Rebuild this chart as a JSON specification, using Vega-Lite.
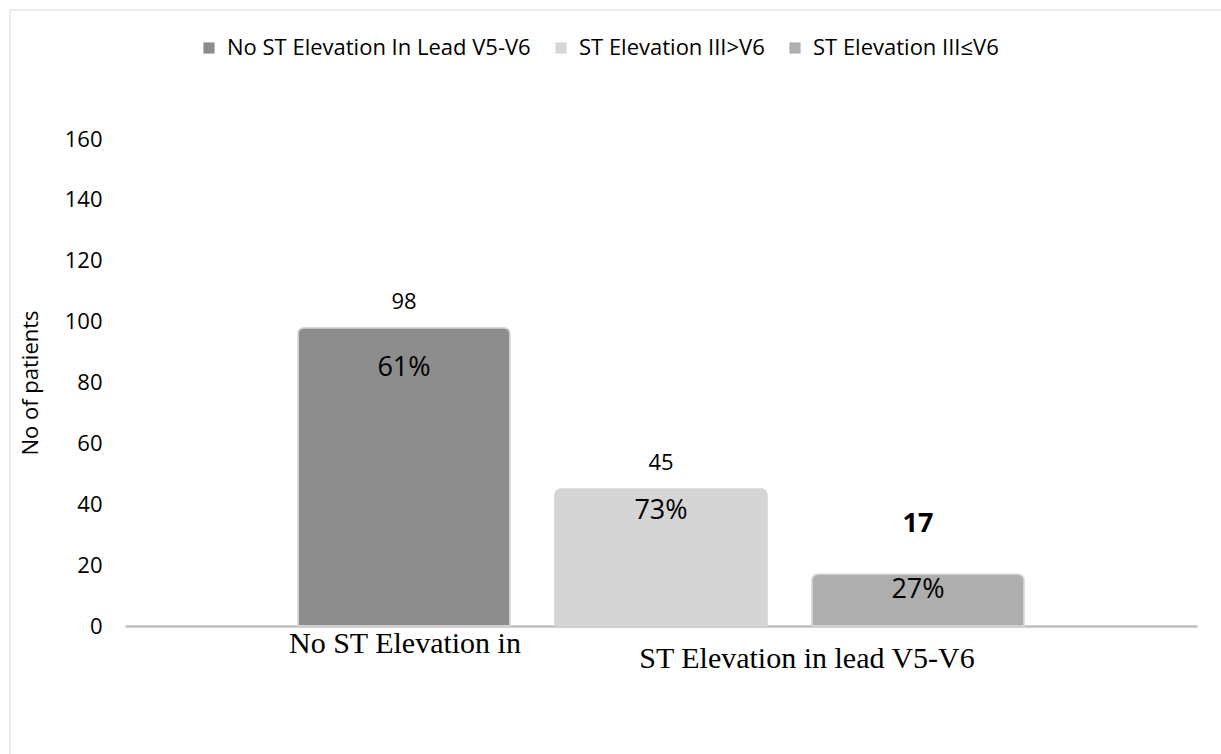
{
  "$schema": "https://vega.github.io/schema/vega-lite/v6.json",
  "autosize": {"type": "none"},
  "width": 1072,
  "height": 487,
  "padding": {"left": 125, "top": 139, "right": 24, "bottom": 128},
  "background": "#ffffff",
  "config": {
    "view": {"stroke": null},
    "font": "Open Sans"
  },
  "data": {
    "values": [
      {"bar": "No ST Elevation In Lead V5-V6", "patients": 98, "pct": "61%"},
      {"bar": "ST Elevation III>V6", "patients": 45, "pct": "73%"},
      {"bar": "ST Elevation III≤V6", "patients": 17, "pct": "27%"}
    ]
  },
  "encoding": {
    "x": {
      "field": "bar",
      "type": "nominal",
      "sort": null,
      "scale": {"paddingInner": 0.175, "paddingOuter": 0.673},
      "axis": {
        "title": null,
        "domainColor": "#bfbfbf",
        "domainWidth": 2.5,
        "ticks": false,
        "labelAngle": 0,
        "labelFont": "Liberation Serif",
        "labelFontSize": 30,
        "labelColor": "#000000",
        "labelOverlap": false,
        "labelBound": false,
        "labelLimit": 0,
        "labelBaseline": "top",
        "labelExpr": "datum.value == 'No ST Elevation In Lead V5-V6' ? 'No ST Elevation in' : (datum.value == 'ST Elevation III>V6' ? 'ST Elevation in lead V5-V6' : '')",
        "labelOffset": {"condition": {"test": "datum.value == 'ST Elevation III>V6'", "value": 146}, "value": 1},
        "labelPadding": {"condition": {"test": "datum.value == 'ST Elevation III>V6'", "value": 17}, "value": 2}
      }
    },
    "y": {
      "field": "patients",
      "type": "quantitative",
      "scale": {"domain": [0, 160], "nice": false},
      "axis": {
        "title": "No of patients",
        "titleFont": "Open Sans",
        "titleFontSize": 22,
        "titleFontWeight": "normal",
        "titleColor": "#000000",
        "titlePadding": 22,
        "values": [0, 20, 40, 60, 80, 100, 120, 140, 160],
        "domain": false,
        "ticks": false,
        "grid": false,
        "labelFontSize": 22,
        "labelColor": "#000000",
        "labelPadding": 23
      }
    }
  },
  "layer": [
    {
      "mark": {"type": "bar", "cornerRadiusTopLeft": 6, "cornerRadiusTopRight": 6, "stroke": "#d4d4d4", "strokeWidth": 1.5},
      "encoding": {
        "color": {
          "field": "bar",
          "type": "nominal",
          "sort": null,
          "scale": {"range": ["#8d8d8d", "#d5d5d5", "#aeaeae"]},
          "legend": {
            "title": null,
            "orient": "none",
            "direction": "horizontal",
            "legendX": 73,
            "legendY": -102,
            "symbolType": "square",
            "symbolSize": 125,
            "symbolStrokeWidth": 0,
            "labelFont": "Open Sans",
            "labelFontSize": 22,
            "labelColor": "#000000",
            "labelOffset": 7,
            "columnPadding": 19,
            "labelLimit": 0
          }
        }
      }
    },
    {
      "transform": [{"filter": "datum.patients > 20"}],
      "mark": {"type": "text", "baseline": "middle", "dy": -26, "fontSize": 22, "color": "#000000"},
      "encoding": {
        "text": {"field": "patients"},
        "opacity": {"field": "patients", "type": "quantitative", "scale": {"range": [1, 1]},
          "legend": {
            "orient": "none", "legendX": -115.5, "legendY": -129.5,
            "padding": 800, "strokeColor": "#d9d9d9",
            "title": null, "symbolOpacity": 0, "labelExpr": "''", "symbolStrokeWidth": 0,
            "encode": {"legend": {"update": {"strokeWidth": {"value": 3}}}}
          }
        }
      }
    },
    {
      "transform": [{"filter": "datum.patients <= 20"}],
      "mark": {"type": "text", "baseline": "middle", "dy": -50, "fontSize": 27, "fontWeight": "bold", "color": "#000000"},
      "encoding": {"text": {"field": "patients"}}
    },
    {
      "transform": [{"filter": "datum.pct == '61%'"}],
      "mark": {"type": "text", "baseline": "middle", "dy": 40, "fontSize": 27, "color": "#000000"},
      "encoding": {"text": {"field": "pct"}}
    },
    {
      "transform": [{"filter": "datum.pct == '73%'"}],
      "mark": {"type": "text", "baseline": "middle", "dy": 22, "fontSize": 27, "color": "#000000"},
      "encoding": {"text": {"field": "pct"}}
    },
    {
      "transform": [{"filter": "datum.pct == '27%'"}],
      "mark": {"type": "text", "baseline": "middle", "dy": 16, "fontSize": 27, "color": "#000000"},
      "encoding": {"text": {"field": "pct"}}
    }
  ]
}
